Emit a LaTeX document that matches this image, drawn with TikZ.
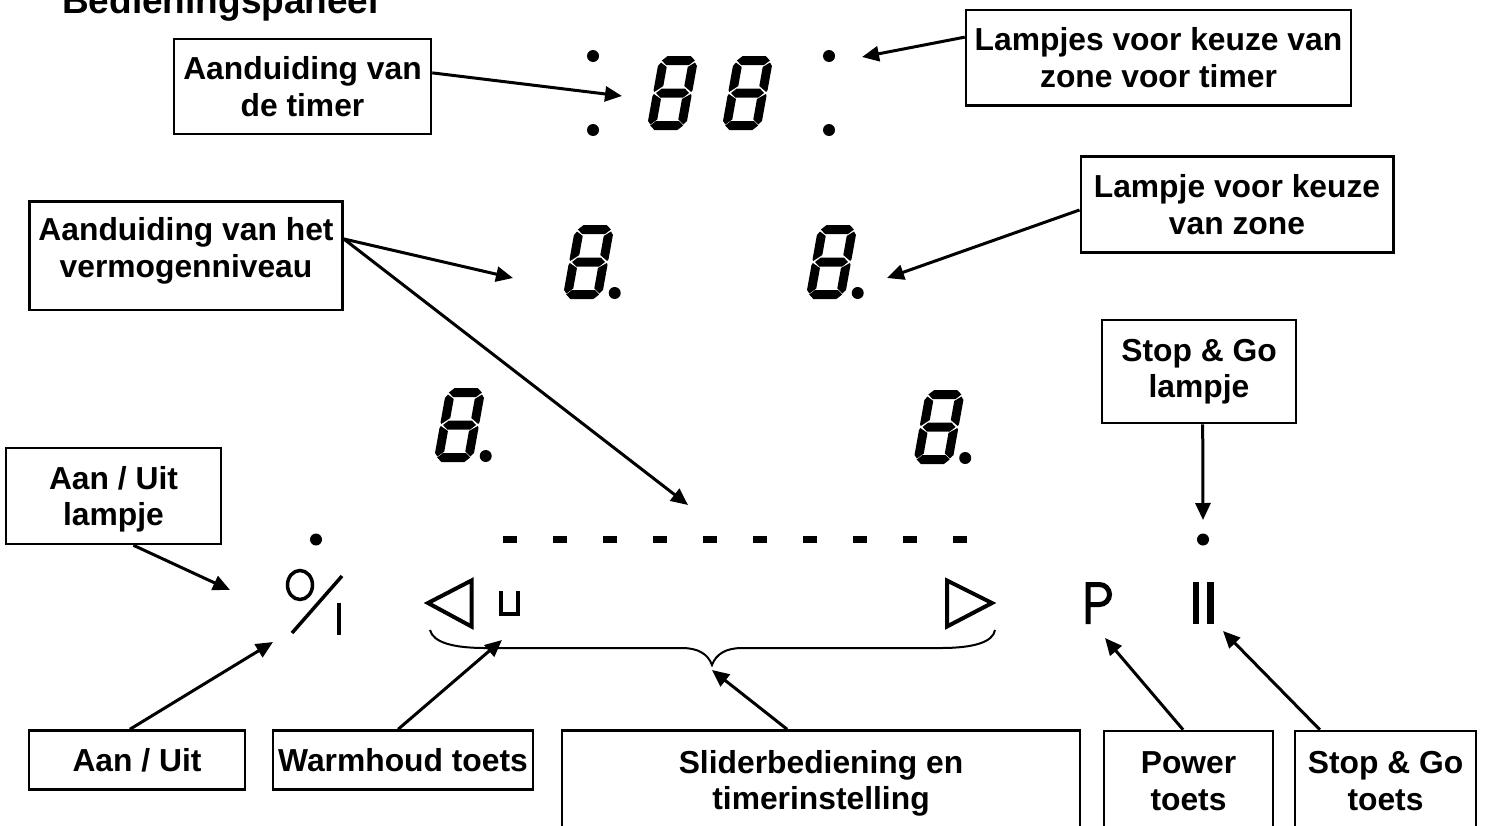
\documentclass[tikz,border=0pt]{standalone}
\usepackage{fontspec}
\setmainfont{Liberation Sans}
\usetikzlibrary{arrows.meta}

\begin{document}
\begin{tikzpicture}[
    x=1pt, y=-1pt,
    labelbox/.style={rectangle, draw, line width=2.5pt, align=center, inner sep=0pt, font=\fontsize{31.8}{36.6}\selectfont\bfseries},
    arrow/.style={-{Triangle[length=17pt,width=15pt]}, line width=3pt},
    symbol/.style={draw, line width=4pt, line join=miter},
    digit/.pic={
        \begin{scope}[shift={(11.7,0)}, xslant=0.18]
        \foreach \sy in {0,32.5,65} {
            \fill (3,\sy+4.5) -- (8,\sy) -- (31,\sy) -- (36,\sy+4.5) -- (31,\sy+9) -- (8,\sy+9) -- cycle;
        }
        \fill (2.5,6.5) -- (9,11) -- (9,30) -- (1,36) -- (0,34) -- (0,10) -- cycle;
        \fill (36.5,6.5) -- (39,10) -- (39,34) -- (38,36) -- (30,30) -- (30,11) -- cycle;
        \fill (1,38) -- (9,43) -- (9,63.5) -- (3,68.5) -- (0,65) -- (0,40) -- cycle;
        \fill (38,38) -- (39,40) -- (39,65) -- (36,68.5) -- (30,63.5) -- (30,43) -- cycle;
        \end{scope}
    }
]
\useasboundingbox (0,0) rectangle (1486,825);
\clip (0,0) rectangle (1486,825);

% title, cut off by the page
\node[anchor=base west, inner sep=0pt, font=\fontsize{37}{40}\selectfont\bfseries] (title) at (62,13) {Bedieningspaneel};

% labels
\node[labelbox, minimum width=257, minimum height=95] (timer) at (302.5,86.5) {Aanduiding van\\de timer};
\node[labelbox, minimum width=385, minimum height=95.5] (lampjes) at (1158.5,57.5) {Lampjes voor keuze van\\zone voor timer};
\node[labelbox, minimum width=313, minimum height=108.5, text depth=16pt] (niveau) at (186,255.5) {Aanduiding van het\\vermogenniveau};
\node[labelbox, minimum width=312.5, minimum height=96] (keuze) at (1237,204.5) {Lampje voor keuze\\van zone};
\node[labelbox, minimum width=194, minimum height=103] (stoplamp) at (1199,371.5) {Stop \& Go\\lampje};
\node[labelbox, minimum width=215, minimum height=96, text depth=0pt] (aanlamp) at (113.5,496) {Aan / Uit\\lampje};
\node[labelbox, minimum width=216, minimum height=59] (aanuit) at (137,760) {Aan / Uit};
\node[labelbox, minimum width=260, minimum height=59] (warm) at (403,760) {Warmhoud toets};
\node[labelbox, minimum width=518, minimum height=106] (slider) at (821,783.5) {Sliderbediening en\\timerinstelling};
\node[labelbox, minimum width=169, minimum height=100] (power) at (1188.5,781) {Power\\toets};
\node[labelbox, minimum width=181, minimum height=100] (stoptoets) at (1385.5,781) {Stop \& Go\\toets};

% seven segment digits
\pic at (648,56) {digit};
\pic at (723,56) {digit};
\foreach \dx/\dy in {564/225, 807/225, 435/388, 914.5/390} {
    \pic at (\dx,\dy) {digit};
    \fill (\dx+50.7,\dy+68) circle (6);
}

% lamps
\foreach \lx/\ly in {593/56, 593/130, 829/56, 829/130, 316/539.5, 1203/539.5} {
    \fill (\lx,\ly) circle (6);
}
\foreach \i in {0,...,9} {
    \fill (502.5+50.1*\i,536) rectangle +(14,7);
}

% keys
\draw[symbol, line width=3.5pt] (300,585) ellipse (12.5 and 14.5);
\draw[symbol, line width=3.5pt] (292,633) -- (342,576);
\draw[symbol, line width=3.5pt] (339,603) -- (339,635);
\draw[symbol] (471.5,580.5) -- (428,603) -- (471.5,626.5) -- cycle;
\draw[symbol] (501,591) -- (501,614) -- (518,614) -- (518,591);
\draw[symbol] (947,580.5) -- (992,603) -- (947,626.5) -- cycle;
\draw[symbol, line width=5pt] (1088,624) -- (1088,584.5) -- (1099.5,584.5) arc (-90:90:10) -- (1088,604.5);
\draw[symbol, line width=6.5pt] (1196,582) -- (1196,624);
\draw[symbol, line width=6.5pt] (1210.5,582) -- (1210.5,624);

% brace under the slider
\draw[line width=2pt] (430,630) .. controls (433,642) and (452,648) .. (485,648) -- (682,648)
    .. controls (698,648) and (708,654) .. (712,665)
    .. controls (716,654) and (726,648) .. (742,648) -- (941,648)
    .. controls (974,648) and (993,642) .. (995,630);

% arrow ends
\coordinate (timertip) at (622,96);
\coordinate (lampjestip) at (862,57);
\coordinate (niveautipa) at (513,278);
\coordinate (niveautipb) at (688,505);
\coordinate (keuzetip) at (887,278);
\coordinate (stoplamptip) at (1203,520);
\coordinate (aanlamptip) at (230,590);
\coordinate (aanuittip) at (273,642);
\coordinate (warmtip) at (502,640);
\coordinate (slidertip) at (712,670);
\coordinate (powertip) at (1105,638);
\coordinate (stoptoetstip) at (1223,631);

\draw[arrow] (timer.6.44) -- (timertip);
\draw[arrow] (lampjes.174.95) -- (lampjestip);
\draw[arrow] (niveau.6) -- (niveautipa);
\draw[arrow] (niveau.6) -- (niveautipb);
\draw[arrow] (keuze.182.2) -- (keuzetip);
\draw[arrow] (stoplamp.274.4) -- (stoplamptip);
\draw[arrow] (aanlamp.292.1) -- (aanlamptip);
\draw[arrow] (aanuit.103.3) -- (aanuittip);
\draw[arrow] (warm.99.6) -- (warmtip);
\draw[arrow] (slider.122.7) -- (slidertip);
\draw[arrow] (power.96.3) -- (powertip);
\draw[arrow] (stoptoets.142.2) -- (stoptoetstip);

\end{tikzpicture}
\end{document}
